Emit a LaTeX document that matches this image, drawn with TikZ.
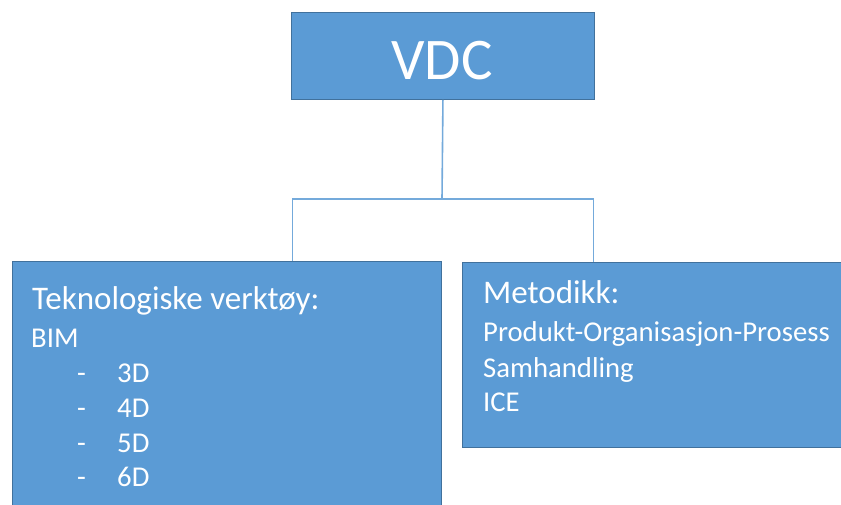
\documentclass[tikz,border=0pt]{standalone}
\usepackage{fontspec}
\setmainfont{Carlito}
\usepackage{xcolor}
\usetikzlibrary{positioning}
\definecolor{boxblue}{HTML}{5B9BD5}
\definecolor{boxedge}{HTML}{41719C}

\begin{document}
\begin{tikzpicture}[
  x=1pt, y=-1pt,
  box/.style={rectangle, draw=boxedge, fill=boxblue, line width=0.9pt, anchor=north west, inner sep=0pt},
  head/.style={anchor=base west, text=white, font=\fontsize{33}{40}\selectfont, inner sep=0pt},
  item/.style={anchor=base west, text=white, font=\fontsize{28.7}{35}\selectfont, inner sep=0pt},
  link/.style={draw=boxblue!85!white, line width=1.6pt}
]
\useasboundingbox (0,0) rectangle (841,505);
\clip (0,0) rectangle (841,505);
% boxes
\coordinate (split) at (442,199);
\node[box, minimum width=303pt, minimum height=87pt] (vdc) at (291,12) {};
\node[box, minimum width=429pt, minimum height=300pt] (tek) at (12,261) {};
\node[box, minimum width=383pt, minimum height=185pt] (met) at (462,262) {};
% connectors
\draw[link] (vdc.south) -- (split);
\draw[link] ([xshift=65.5pt]tek.north) |- (split) -| ([xshift=-60.5pt]met.north);
% texts
\node[anchor=base, text=white, font=\fontsize{59}{70}\selectfont, inner sep=0pt] (vdctxt) at (442,80) {VDC};
\node[head] (tekhead) at (32,309) {Teknologiske verktøy:};
\node[item] (bim) at (31,347) {BIM};
\foreach \d/\y in {3/382,4/417,5/452,6/486} {
  \node[item] (dash\d) at (77,\y) {-};
  \node[item] (dim\d) at (117,\y) {\d D};
}
\node[head] (methead) at (483,303) {Metodikk:};
\node[item] (pop) at (483,341) {Produkt-Organisasjon-Prosess};
\node[item] (samh) at (483,377) {Samhandling};
\node[item] (ice) at (483,411) {ICE};
\end{tikzpicture}
\end{document}
